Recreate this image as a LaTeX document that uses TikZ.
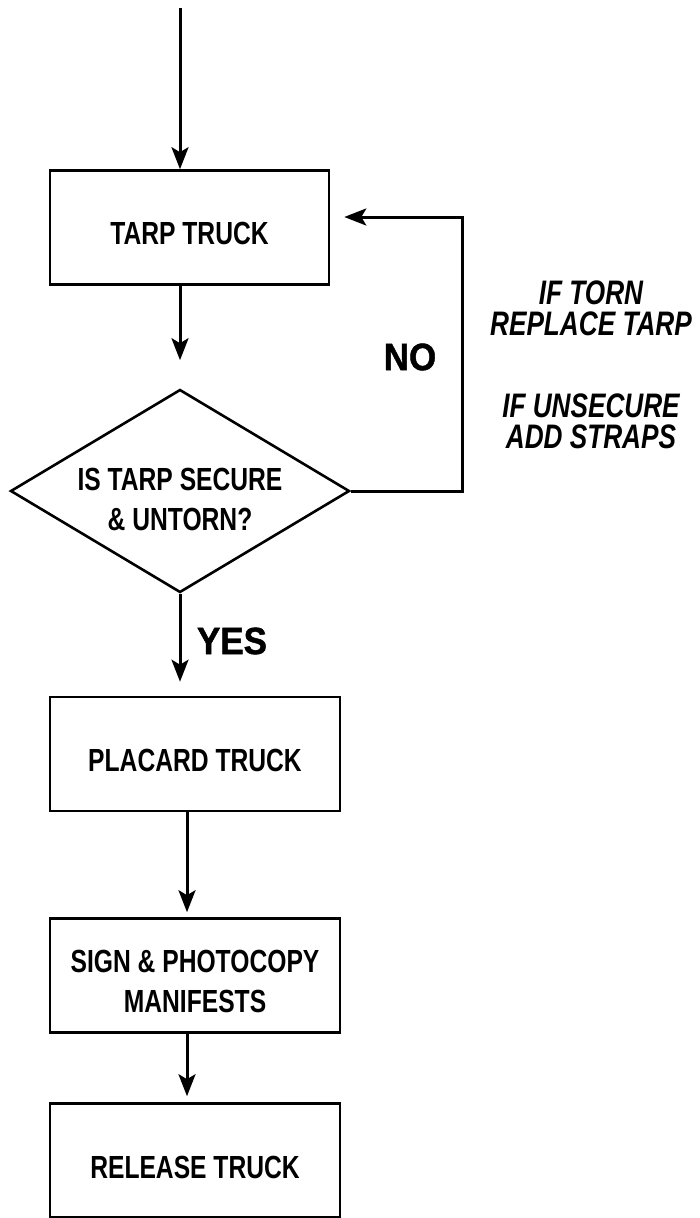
\documentclass[tikz,border=0pt]{standalone}
\usepackage{fontspec}
\setmainfont{Liberation Sans}[FakeStretch=0.77]
\newfontfamily\answerfont{Liberation Sans}[FakeStretch=0.92,FakeBold=1.2]
\newcommand{\lowertext}[1]{\rule{0pt}{#1}}
\usetikzlibrary{shapes.geometric,arrows.meta}
\tikzset{
	box/.style={draw, line width=2.6pt, minimum height=114pt, inner sep=0pt, align=center, font=\fontsize{32}{40}\selectfont\bfseries},
	decision/.style={draw, diamond, line width=2.6pt, minimum width=333pt, minimum height=199pt, aspect=1.67, inner sep=0pt, align=center, font=\fontsize{32}{40}\selectfont\bfseries},
	flow/.style={line width=3pt, -{Stealth[length=22pt,width=17pt,inset=5pt]}},
	answer/.style={font=\answerfont\fontsize{38}{38}\selectfont\bfseries},
	note/.style={align=center, font=\fontsize{34}{31}\selectfont\bfseries\itshape},
}
\begin{document}
\begin{tikzpicture}[x=1pt,y=-1pt]
	\path[use as bounding box, fill=white] (0,0) rectangle (699,1218);
	\node[box, minimum width=279pt] (tarp) at (189.5,227.5) {\lowertext{35pt}TARP TRUCK};
	\node[decision] (check) at (180,491) {\lowertext{40pt}IS TARP SECURE\\\& UNTORN?};
	\node[box, minimum width=290pt] (placard) at (195,754) {\lowertext{35pt}PLACARD TRUCK};
	\node[box, minimum width=290pt] (sign) at (195,975.5) {\lowertext{35pt}SIGN \& PHOTOCOPY\\MANIFESTS};
	\node[box, minimum width=290pt] (release) at (195,1160.5) {\lowertext{37pt}RELEASE TRUCK};
	\node[answer] (no) at (410,357) {NO};
	\node[answer] (yes) at (232,641) {YES};
	\node[note] (torn) at (591,308) {IF TORN\\REPLACE TARP};
	\node[note] (unsecure) at (591,421) {IF UNSECURE\\ADD STRAPS};
	\coordinate (feed) at (180,8);
	\coordinate (loop) at (462,0);

	\draw[flow] (feed) -- (feed |- tarp.north);
	\draw[flow, shorten >=28pt] (tarp.south -| check.north) -- (check.north);
	\draw[flow, shorten >=14pt] (check.south) -- (check.south |- placard.north);
	\draw[flow, shorten >=5pt] ([xshift=-8pt]placard.south) -- ([xshift=-8pt]sign.north);
	\draw[flow, shorten >=6pt] ([xshift=-8pt]sign.south) -- ([xshift=-8pt]release.north);
	\draw[flow, shorten >=14pt] (check.east) -- (check.east -| loop) |- ([yshift=10.5pt]tarp.east);
\end{tikzpicture}
\end{document}
